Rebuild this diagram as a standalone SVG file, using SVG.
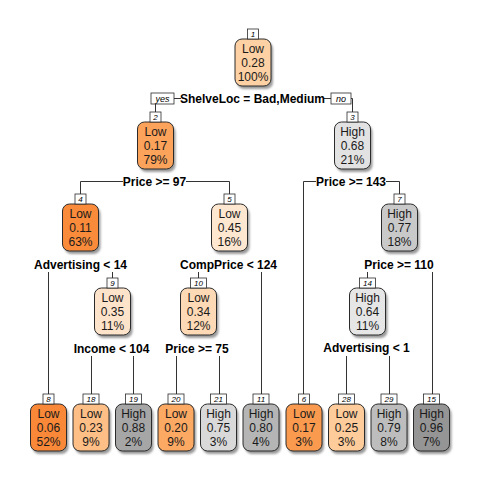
<svg xmlns="http://www.w3.org/2000/svg" width="480" height="480" viewBox="0 0 480 480">
<defs>
<filter id="sh" x="-30%" y="-30%" width="160%" height="160%">
<feGaussianBlur stdDeviation="1.2"/>
</filter>
<style>
.bx{stroke:#2b2b2b;stroke-width:1}
.sd{fill:#9a9a9a;filter:url(#sh)}
.nt{font-family:"Liberation Sans",Arial,sans-serif;font-size:12px;fill:#1a1a1a;text-anchor:middle}
.sp{font-family:"Liberation Sans",Arial,sans-serif;font-size:12px;font-weight:bold;fill:#000;text-anchor:middle}
.nb{fill:#fff;stroke:#2b2b2b;stroke-width:0.8}
.nn{font-family:"Liberation Sans",Arial,sans-serif;font-size:8px;font-style:italic;fill:#000;text-anchor:middle}
.ln{fill:none;stroke:#333;stroke-width:1}
.yn{font-family:"Liberation Sans",Arial,sans-serif;font-size:9px;font-style:italic;fill:#000;text-anchor:middle}
</style>
</defs>
<rect width="480" height="480" fill="#fff"/>

<g id="connectors">
<path class="ln" d="M155.5 112V98.5H181 M324 98.5H352.5V112"/>
<path class="ln" d="M80.5 194V181.5H123 M186 181.5H229.5V194"/>
<path class="ln" d="M303.5 394V181.5H316 M386 181.5H399.5V194"/>
<path class="ln" d="M48.5 272V394 M112.5 272V278"/>
<path class="ln" d="M198.5 272V278 M261.5 272V394"/>
<path class="ln" d="M367.5 272V278 M432.5 272V394"/>
<path class="ln" d="M91.5 356V394 M133.5 356V394"/>
<path class="ln" d="M176.5 356V394 M219.5 356V394"/>
<path class="ln" d="M346.5 356V394 M389.5 356V394"/>
<rect class="nb" x="151" y="93" width="23" height="11"/>
<text class="yn" x="162.5" y="101.5">yes</text>
<rect class="nb" x="331" y="93" width="20" height="11"/>
<text class="yn" x="341" y="101.5">no</text>
</g>

<g id="splits">
<text class="sp" x="252.5" y="102.5">ShelveLoc = Bad,Medium</text>
<text class="sp" x="154.5" y="185.5">Price &gt;= 97</text>
<text class="sp" x="351" y="185.5">Price &gt;= 143</text>
<text class="sp" x="80.5" y="268.5">Advertising &lt; 14</text>
<text class="sp" x="228.5" y="268.5">CompPrice &lt; 124</text>
<text class="sp" x="399" y="269">Price &gt;= 110</text>
<text class="sp" x="111.5" y="352.5">Income &lt; 104</text>
<text class="sp" x="197" y="352.5">Price &gt;= 75</text>
<text class="sp" x="366.5" y="352">Advertising &lt; 1</text>
</g>

<g id="node1" transform="translate(253,39)">
<rect class="sd" x="-16" y="3" width="36" height="47" rx="7"/>
<rect class="bx" x="-18" y="0" width="36" height="47" rx="7" fill="#fdd1a3"/>
<rect class="nb" x="-5.5" y="-10" width="11" height="10"/><text class="nn" x="0" y="-2.5">1</text>
<text class="nt" y="14">Low</text><text class="nt" y="28">0.28</text><text class="nt" y="42">100%</text>
</g>
<g id="node2" transform="translate(155.5,122)">
<rect class="sd" x="-16" y="3" width="36" height="47" rx="7"/>
<rect class="bx" x="-18" y="0" width="36" height="47" rx="7" fill="#fba25b"/>
<rect class="nb" x="-5.5" y="-10" width="11" height="10"/><text class="nn" x="0" y="-2.5">2</text>
<text class="nt" y="14">Low</text><text class="nt" y="28">0.17</text><text class="nt" y="42">79%</text>
</g>
<g id="node3" transform="translate(352.5,122)">
<rect class="sd" x="-16" y="3" width="36" height="47" rx="7"/>
<rect class="bx" x="-18" y="0" width="36" height="47" rx="7" fill="#e2e2e2"/>
<rect class="nb" x="-5.5" y="-10" width="11" height="10"/><text class="nn" x="0" y="-2.5">3</text>
<text class="nt" y="14">High</text><text class="nt" y="28">0.68</text><text class="nt" y="42">21%</text>
</g>
<g id="node4" transform="translate(80.5,204)">
<rect class="sd" x="-16" y="3" width="36" height="47" rx="7"/>
<rect class="bx" x="-18" y="0" width="36" height="47" rx="7" fill="#f98b3a"/>
<rect class="nb" x="-5.5" y="-10" width="11" height="10"/><text class="nn" x="0" y="-2.5">4</text>
<text class="nt" y="14">Low</text><text class="nt" y="28">0.11</text><text class="nt" y="42">63%</text>
</g>
<g id="node5" transform="translate(229.5,204)">
<rect class="sd" x="-16" y="3" width="36" height="47" rx="7"/>
<rect class="bx" x="-18" y="0" width="36" height="47" rx="7" fill="#fee7d1"/>
<rect class="nb" x="-5.5" y="-10" width="11" height="10"/><text class="nn" x="0" y="-2.5">5</text>
<text class="nt" y="14">Low</text><text class="nt" y="28">0.45</text><text class="nt" y="42">16%</text>
</g>
<g id="node7" transform="translate(399.5,204)">
<rect class="sd" x="-16" y="3" width="36" height="47" rx="7"/>
<rect class="bx" x="-18" y="0" width="36" height="47" rx="7" fill="#c9c9c9"/>
<rect class="nb" x="-5.5" y="-10" width="11" height="10"/><text class="nn" x="0" y="-2.5">7</text>
<text class="nt" y="14">High</text><text class="nt" y="28">0.77</text><text class="nt" y="42">18%</text>
</g>
<g id="node9" transform="translate(112.5,288)">
<rect class="sd" x="-16" y="3" width="36" height="47" rx="7"/>
<rect class="bx" x="-18" y="0" width="36" height="47" rx="7" fill="#fee3cb"/>
<rect class="nb" x="-5.5" y="-10" width="11" height="10"/><text class="nn" x="0" y="-2.5">9</text>
<text class="nt" y="14">Low</text><text class="nt" y="28">0.35</text><text class="nt" y="42">11%</text>
</g>
<g id="node10" transform="translate(198.5,288)">
<rect class="sd" x="-16" y="3" width="36" height="47" rx="7"/>
<rect class="bx" x="-18" y="0" width="36" height="47" rx="7" fill="#fdd9b5"/>
<rect class="nb" x="-8" y="-10" width="16" height="10"/><text class="nn" x="0" y="-2.5">10</text>
<text class="nt" y="14">Low</text><text class="nt" y="28">0.34</text><text class="nt" y="42">12%</text>
</g>
<g id="node14" transform="translate(367.5,288)">
<rect class="sd" x="-16" y="3" width="36" height="47" rx="7"/>
<rect class="bx" x="-18" y="0" width="36" height="47" rx="7" fill="#e6e6e6"/>
<rect class="nb" x="-8" y="-10" width="16" height="10"/><text class="nn" x="0" y="-2.5">14</text>
<text class="nt" y="14">High</text><text class="nt" y="28">0.64</text><text class="nt" y="42">11%</text>
</g>

<g id="node8" transform="translate(48.5,404)">
<rect class="sd" x="-16" y="3" width="36" height="47" rx="7"/>
<rect class="bx" x="-18" y="0" width="36" height="47" rx="7" fill="#f98838"/>
<rect class="nb" x="-5.5" y="-10" width="11" height="10"/><text class="nn" x="0" y="-2.5">8</text>
<text class="nt" y="14">Low</text><text class="nt" y="28">0.06</text><text class="nt" y="42">52%</text>
</g>
<g id="node18" transform="translate(91,404)">
<rect class="sd" x="-16" y="3" width="36" height="47" rx="7"/>
<rect class="bx" x="-18" y="0" width="36" height="47" rx="7" fill="#fdbf86"/>
<rect class="nb" x="-8" y="-10" width="16" height="10"/><text class="nn" x="0" y="-2.5">18</text>
<text class="nt" y="14">Low</text><text class="nt" y="28">0.23</text><text class="nt" y="42">9%</text>
</g>
<g id="node19" transform="translate(133.5,404)">
<rect class="sd" x="-16" y="3" width="36" height="47" rx="7"/>
<rect class="bx" x="-18" y="0" width="36" height="47" rx="7" fill="#a6a6a6"/>
<rect class="nb" x="-8" y="-10" width="16" height="10"/><text class="nn" x="0" y="-2.5">19</text>
<text class="nt" y="14">High</text><text class="nt" y="28">0.88</text><text class="nt" y="42">2%</text>
</g>
<g id="node20" transform="translate(176,404)">
<rect class="sd" x="-16" y="3" width="36" height="47" rx="7"/>
<rect class="bx" x="-18" y="0" width="36" height="47" rx="7" fill="#fca964"/>
<rect class="nb" x="-8" y="-10" width="16" height="10"/><text class="nn" x="0" y="-2.5">20</text>
<text class="nt" y="14">Low</text><text class="nt" y="28">0.20</text><text class="nt" y="42">9%</text>
</g>
<g id="node21" transform="translate(218.5,404)">
<rect class="sd" x="-16" y="3" width="36" height="47" rx="7"/>
<rect class="bx" x="-18" y="0" width="36" height="47" rx="7" fill="#d9d9d9"/>
<rect class="nb" x="-8" y="-10" width="16" height="10"/><text class="nn" x="0" y="-2.5">21</text>
<text class="nt" y="14">High</text><text class="nt" y="28">0.75</text><text class="nt" y="42">3%</text>
</g>
<g id="node11" transform="translate(261,404)">
<rect class="sd" x="-16" y="3" width="36" height="47" rx="7"/>
<rect class="bx" x="-18" y="0" width="36" height="47" rx="7" fill="#b5b5b5"/>
<rect class="nb" x="-8" y="-10" width="16" height="10"/><text class="nn" x="0" y="-2.5">11</text>
<text class="nt" y="14">High</text><text class="nt" y="28">0.80</text><text class="nt" y="42">4%</text>
</g>
<g id="node6" transform="translate(304,404)">
<rect class="sd" x="-16" y="3" width="36" height="47" rx="7"/>
<rect class="bx" x="-18" y="0" width="36" height="47" rx="7" fill="#fa9a4f"/>
<rect class="nb" x="-5.5" y="-10" width="11" height="10"/><text class="nn" x="0" y="-2.5">6</text>
<text class="nt" y="14">Low</text><text class="nt" y="28">0.17</text><text class="nt" y="42">3%</text>
</g>
<g id="node28" transform="translate(346.5,404)">
<rect class="sd" x="-16" y="3" width="36" height="47" rx="7"/>
<rect class="bx" x="-18" y="0" width="36" height="47" rx="7" fill="#fdcc9a"/>
<rect class="nb" x="-8" y="-10" width="16" height="10"/><text class="nn" x="0" y="-2.5">28</text>
<text class="nt" y="14">Low</text><text class="nt" y="28">0.25</text><text class="nt" y="42">3%</text>
</g>
<g id="node29" transform="translate(389,404)">
<rect class="sd" x="-16" y="3" width="36" height="47" rx="7"/>
<rect class="bx" x="-18" y="0" width="36" height="47" rx="7" fill="#bdbdbd"/>
<rect class="nb" x="-8" y="-10" width="16" height="10"/><text class="nn" x="0" y="-2.5">29</text>
<text class="nt" y="14">High</text><text class="nt" y="28">0.79</text><text class="nt" y="42">8%</text>
</g>
<g id="node15" transform="translate(431.5,404)">
<rect class="sd" x="-16" y="3" width="36" height="47" rx="7"/>
<rect class="bx" x="-18" y="0" width="36" height="47" rx="7" fill="#959595"/>
<rect class="nb" x="-8" y="-10" width="16" height="10"/><text class="nn" x="0" y="-2.5">15</text>
<text class="nt" y="14">High</text><text class="nt" y="28">0.96</text><text class="nt" y="42">7%</text>
</g>
</svg>
